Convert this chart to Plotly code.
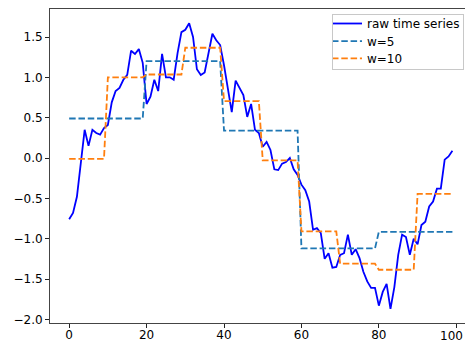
import numpy as np
import plotly.graph_objects as go

# Raw time series (100 points)
raw_values = [
    -0.76, -0.68, -0.48, -0.03, 0.35, 0.15, 0.35, 0.31, 0.29, 0.37,
    0.41, 0.69, 0.83, 0.87, 0.97, 1.03, 1.33, 1.29, 1.35, 1.18,
    0.67, 0.76, 0.97, 0.83, 1.29, 1.00, 1.00, 0.97, 1.30, 1.56,
    1.59, 1.67, 1.50, 1.10, 1.03, 1.06, 1.32, 1.54, 1.46, 1.40,
    1.15, 0.88, 0.57, 0.96, 0.86, 0.78, 0.51, 0.67, 0.35, 0.31,
    0.14, 0.20, 0.10, -0.14, -0.15, -0.07, -0.05, 0.00, -0.14, -0.21,
    -0.33, -0.40, -0.54, -0.89, -0.87, -0.93, -1.25, -1.18, -1.36, -1.35,
    -1.20, -1.18, -0.95, -1.20, -1.13, -1.24, -1.41, -1.53, -1.61, -1.61,
    -1.83, -1.66, -1.56, -1.87, -1.60, -1.20, -0.95, -0.98, -1.20, -1.00,
    -1.07, -0.83, -0.79, -0.60, -0.54, -0.38, -0.38, -0.02, 0.02, 0.09,
]

# Segment values of the two step series
w5_segments = [0.49, 1.20, 0.34, -1.12, -0.915]
w10_segments = [-0.01, 1.00, 1.035, 1.367, 0.705, -0.03, -0.91, -1.31, -1.385, -0.445]

series_names = ["raw time series", "w=5", "w=10"]
x_ticks = [0, 20, 40, 60, 80, 100]
y_ticks = [-2.0, -1.5, -1.0, -0.5, 0.0, 0.5, 1.0, 1.5]

n = len(raw_values)
x = list(range(n))
w5_values = np.repeat(w5_segments, n // len(w5_segments))
w10_values = np.repeat(w10_segments, n // len(w10_segments))

FONT = "DejaVu Sans"
FS = 12
dash = "6.5px,2.8px"

# figure geometry (pixels)
W, H = 465, 342
ML, MR, MT, MB = 50, 0, 9, 19
PW, PH = W - ML - MR, H - MT - MB


def px_x(p):
    return (p - ML) / PW


def px_y(p):
    return 1 - (p - MT) / PH


legend_ids = ["legend", "legend2", "legend3"]
legend_centers = [23.5, 41.2, 58.4]
colors = ["#0000ff", "#1f77b4", "#ff7f0e"]
dashes = ["solid", dash, dash]
series_y = [raw_values, w5_values, w10_values]

fig = go.Figure()
for name, yv, col, dsh, lg in zip(series_names, series_y, colors, dashes, legend_ids):
    fig.add_trace(go.Scatter(x=x, y=yv, mode="lines", name=name,
                             line=dict(color=col, width=1.8, dash=dsh), legend=lg))

axis_common = dict(
    showgrid=False, zeroline=False, showline=True, linecolor="#444", linewidth=1,
    ticks="outside", ticklen=4, tickwidth=1, tickcolor="#222", automargin=False,
    tickfont=dict(family=FONT, size=FS, color="#000"),
)

# the last x tick label sits at the figure edge; draw it as text kept inside the figure
x_tick_text = [str(v) if v != x_ticks[-1] else "" for v in x_ticks]


def legend_at(center_px):
    return dict(
        x=px_x(327), y=px_y(center_px), xanchor="left", yanchor="middle",
        bgcolor="rgba(0,0,0,0)", borderwidth=0,
        font=dict(family=FONT, size=FS, color="#000"),
    )


layout_legends = {lg: legend_at(c) for lg, c in zip(legend_ids, legend_centers)}

fig.update_layout(
    width=W, height=H,
    margin=dict(l=ML, r=MR, t=MT, b=MB, autoexpand=False),
    paper_bgcolor="white", plot_bgcolor="white",
    font=dict(family=FONT, size=FS, color="#000"),
    xaxis=dict(range=[-4.95, 102.25], tickvals=x_ticks, ticktext=x_tick_text,
               mirror=True, ticklabelstandoff=-3, **axis_common),
    yaxis=dict(range=[-2.045, 1.847], tickvals=y_ticks, tickformat=".1f", **axis_common),
    showlegend=True,
    annotations=[
        # legend frame
        dict(x=px_x(398), y=px_y(42), xref="paper", yref="paper",
             xanchor="center", yanchor="middle", text=" ", showarrow=False,
             width=128, height=52, borderpad=1, borderwidth=1,
             bordercolor="#c8c8c8", bgcolor="rgba(0,0,0,0)"),
        # last x tick label
        dict(x=1, xref="paper", y=0, yref="paper", yanchor="top", xanchor="right",
             yshift=-4, text=str(x_ticks[-1]), showarrow=False,
             font=dict(family=FONT, size=FS, color="#000")),
    ],
    **layout_legends,
)

fig.write_html("out.html")
